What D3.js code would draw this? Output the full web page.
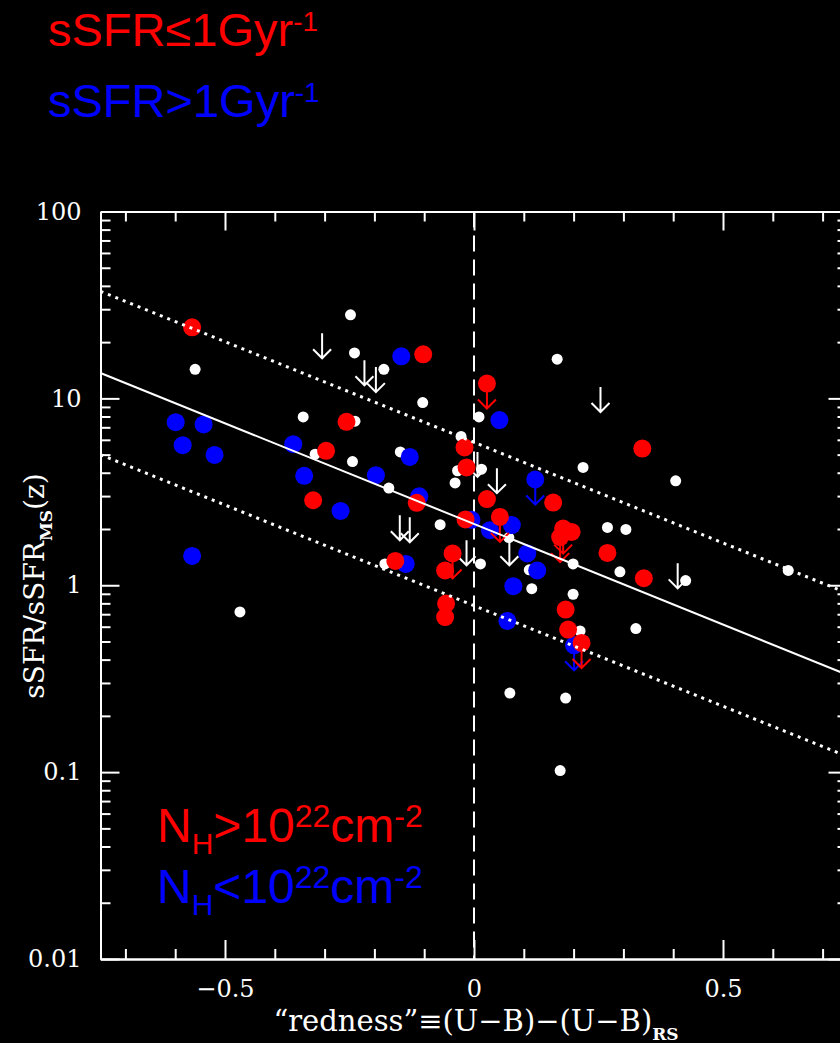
<!DOCTYPE html>
<html>
<head>
<meta charset="utf-8">
<script src="https://cdn.jsdelivr.net/npm/d3@7"></script>
<style>
  html, body { margin: 0; padding: 0; background: #000; overflow: hidden; }
</style>
</head>
<body>
<div id="chart"></div>
<script>
// sSFR / sSFR_MS vs redness

// small white dots: [redness, sSFR/sSFR_MS]
const whiteDots = [
  [-0.248, 28.0], [-0.240, 17.5], [-0.181, 14.3], [-0.560, 14.3], [-0.103, 9.5],
  [-0.343, 7.96], [-0.239, 7.55], [-0.026, 6.26], [-0.319, 5.03], [-0.148, 5.17],
  [-0.244, 4.59], [-0.033, 4.10], [0.015, 4.18], [0.010, 7.96], [-0.038, 3.53],
  [-0.171, 3.31], [-0.068, 2.11], [-0.179, 1.30], [0.013, 1.30], [0.167, 16.2],
  [0.219, 4.27], [0.405, 3.62], [0.268, 2.04], [0.305, 1.99], [0.070, 1.80],
  [0.111, 1.21], [0.199, 1.30], [0.293, 1.18], [0.425, 1.06], [0.631, 1.20],
  [0.116, 0.958], [0.199, 0.895], [0.213, 0.569], [0.325, 0.586], [0.072, 0.265],
  [0.184, 0.249], [0.173, 0.102], [-0.470, 0.72]
];

// white upper limits (arrow top)
const whiteLimits = [
  [-0.305, 22.3], [-0.220, 16.0], [-0.197, 14.7], [0.254, 11.5], [0.007, 5.17],
  [0.046, 4.23], [-0.149, 2.37], [-0.129, 2.31], [0.071, 1.74], [-0.015, 1.74],
  [0.409, 1.31]
];

// N_H > 1e22 : [redness, sSFR/sSFR_MS, upper limit?]
const redPoints = [
  [-0.566, 24.0, 0], [-0.102, 17.2, 0], [-0.256, 7.49, 0], [-0.019, 5.46, 0],
  [-0.297, 5.24, 0], [-0.015, 4.27, 0], [-0.323, 2.85, 0], [-0.115, 2.76, 0],
  [-0.017, 2.25, 0], [-0.043, 1.48, 1], [-0.158, 1.35, 0], [-0.058, 1.20, 0],
  [-0.056, 0.798, 0], [-0.058, 0.676, 0], [0.026, 12.0, 1], [0.338, 5.39, 0],
  [0.026, 2.89, 0], [0.159, 2.77, 0], [0.052, 2.32, 1], [0.179, 2.01, 1],
  [0.196, 1.93, 0], [0.173, 1.81, 1], [0.268, 1.49, 0], [0.341, 1.09, 0],
  [0.184, 0.741, 0], [0.189, 0.579, 0], [0.216, 0.491, 1]
];

// N_H < 1e22
const bluePoints = [
  [-0.146, 16.8, 0], [-0.599, 7.46, 0], [-0.543, 7.25, 0], [-0.585, 5.62, 0],
  [-0.521, 4.98, 0], [-0.363, 5.69, 0], [-0.129, 4.86, 0], [-0.341, 3.85, 0],
  [-0.197, 3.88, 0], [-0.110, 2.99, 0], [-0.268, 2.50, 0], [-0.005, 2.24, 0],
  [-0.137, 1.30, 0], [-0.566, 1.435, 0], [0.051, 7.65, 0], [0.123, 3.68, 1],
  [0.032, 1.97, 0], [0.076, 2.10, 0], [0.107, 1.48, 0], [0.127, 1.20, 0],
  [0.079, 0.988, 0], [0.067, 0.644, 0], [0.201, 0.477, 1]
];

// fit: log10(y) = intercept + slope * x, with +-scatter band
const fitLine = { intercept: 0.328, slope: -1.077 };
const bandOffsets = [-0.437, 0.437];

const xMajorTicks = [-0.5, 0, 0.5];
const xTickLabels = ['\u22120.5', '0', '0.5'];
const yMajorTicks = [0.01, 0.1, 1, 10, 100];
const yTickLabels = ['0.01', '0.1', '1', '10', '100'];

const width = 840, height = 1043;
const plot = { left: 100.5, right: 847.5, top: 211.5, bottom: 959 };

const svg = d3.select('#chart')
  .append('svg')
  .attr('width', width)
  .attr('height', height)
  .style('background', '#000');

const x = d3.scaleLinear().domain([-0.75, 0.75]).range([plot.left, plot.right]);
const y = d3.scaleLog().domain([0.01, 100]).range([plot.bottom, plot.top]);

const xMinor = d3.range(-7, 8).map((d) => d / 10).filter((d) => Math.abs(d * 2 - Math.round(d * 2)) > 1e-6);
const yMinor = [];
[0.01, 0.1, 1, 10].forEach((dec) => {
  for (let k = 2; k <= 9; k++) yMinor.push(dec * k);
});

const tickFont = '"DejaVu Serif", serif';

function styleAxis(g) {
  g.selectAll('path.domain').attr('stroke', '#fff').attr('stroke-width', 2);
  g.selectAll('.tick line').attr('stroke', '#fff').attr('stroke-width', 2);
  g.selectAll('.tick text')
    .attr('fill', '#fff')
    .style('font-family', tickFont)
    .style('font-size', '24px');
}

const axes = svg.append('g').attr('class', 'axes');

// bottom
axes.append('g').attr('transform', `translate(0,${plot.bottom})`)
  .call(d3.axisBottom(x).tickValues(xMinor).tickSize(-10).tickSizeOuter(0).tickFormat(''))
  .call(styleAxis);
axes.append('g').attr('transform', `translate(0,${plot.bottom})`)
  .call(d3.axisBottom(x).tickValues(xMajorTicks).tickSize(-19).tickSizeOuter(0)
    .tickPadding(21).tickFormat((d, i) => xTickLabels[i]))
  .call(styleAxis);

// top
axes.append('g').attr('transform', `translate(0,${plot.top})`)
  .call(d3.axisTop(x).tickValues(xMinor).tickSize(-10).tickSizeOuter(0).tickFormat(''))
  .call(styleAxis);
axes.append('g').attr('transform', `translate(0,${plot.top})`)
  .call(d3.axisTop(x).tickValues(xMajorTicks).tickSize(-19).tickSizeOuter(0).tickFormat(''))
  .call(styleAxis);

// left
axes.append('g').attr('transform', `translate(${plot.left},0)`)
  .call(d3.axisLeft(y).tickValues(yMinor).tickSize(-10).tickSizeOuter(0).tickFormat(''))
  .call(styleAxis);
axes.append('g').attr('transform', `translate(${plot.left},0)`)
  .call(d3.axisLeft(y).tickValues(yMajorTicks).tickSize(-19).tickSizeOuter(0)
    .tickPadding(19).tickFormat((d, i) => yTickLabels[i]))
  .call(styleAxis);

// right
axes.append('g').attr('transform', `translate(${plot.right},0)`)
  .call(d3.axisRight(y).tickValues(yMinor).tickSize(-10).tickSizeOuter(0).tickFormat(''))
  .call(styleAxis);
axes.append('g').attr('transform', `translate(${plot.right},0)`)
  .call(d3.axisRight(y).tickValues(yMajorTicks).tickSize(-19).tickSizeOuter(0).tickFormat(''))
  .call(styleAxis);

// zero line
svg.append('line')
  .attr('x1', x(0)).attr('x2', x(0))
  .attr('y1', plot.top).attr('y2', plot.bottom)
  .attr('stroke', '#fff').attr('stroke-width', 2)
  .attr('stroke-dasharray', '16,8');

// points
const pts = svg.append('g').attr('class', 'points');

pts.selectAll('.white-dot')
  .data(whiteDots)
  .enter()
  .append('circle')
  .attr('class', 'white-dot')
  .attr('cx', (d) => x(d[0]))
  .attr('cy', (d) => y(d[1]))
  .attr('r', 5.5)
  .attr('fill', '#fff');

function arrowPath(d) {
  const px = x(d[0]), py = y(d[1]);
  const tip = py + 25;
  return `M${px},${py}V${tip}M${px - 9},${tip - 9}L${px},${tip}L${px + 9},${tip - 9}`;
}

pts.selectAll('.white-limit')
  .data(whiteLimits)
  .enter()
  .append('path')
  .attr('class', 'white-limit')
  .attr('d', arrowPath)
  .attr('fill', 'none')
  .attr('stroke', '#fff')
  .attr('stroke-width', 2);

function drawSeries(data, colour, cls) {
  const g = pts.selectAll('.' + cls)
    .data(data)
    .enter()
    .append('g')
    .attr('class', cls);

  g.filter((d) => d[2])
    .append('path')
    .attr('d', arrowPath)
    .attr('fill', 'none')
    .attr('stroke', colour)
    .attr('stroke-width', 2);

  g.append('circle')
    .attr('cx', (d) => x(d[0]))
    .attr('cy', (d) => y(d[1]))
    .attr('r', 9)
    .attr('fill', colour);
}

drawSeries(bluePoints, '#0000ff', 'blue-pt');
drawSeries(redPoints, '#ff0000', 'red-pt');

// fit line and band
const xEnds = x.domain();
function fitAt(xv, off) {
  return Math.pow(10, fitLine.intercept + fitLine.slope * xv + off);
}
const lineGen = d3.line().x((d) => x(d[0])).y((d) => y(d[1]));

svg.append('path')
  .attr('d', lineGen(xEnds.map((v) => [v, fitAt(v, 0)])))
  .attr('stroke', '#fff').attr('stroke-width', 2).attr('fill', 'none');

bandOffsets.forEach((off) => {
  svg.append('path')
    .attr('d', lineGen(xEnds.map((v) => [v, fitAt(v, off)])))
    .attr('stroke', '#fff').attr('stroke-width', 3).attr('fill', 'none')
    .attr('stroke-dasharray', '3,5');
});

// axis titles
const serif = '"DejaVu Serif", serif';
const xTitle = svg.append('text')
  .attr('x', 476).attr('y', 1031)
  .attr('text-anchor', 'middle')
  .attr('fill', '#fff')
  .style('font-family', serif)
  .style('font-size', '29px');
xTitle.append('tspan').text('\u201credness\u201d\u2261(U\u2212B)\u2212(U\u2212B)');
xTitle.append('tspan').attr('dy', 9).style('font-size', '17px').style('font-weight', 'bold').text('RS');

const yTitle = svg.append('text')
  .attr('transform', 'translate(44,586) rotate(-90)')
  .attr('text-anchor', 'middle')
  .attr('fill', '#fff')
  .style('font-family', serif)
  .style('font-size', '28px');
yTitle.append('tspan').text('sSFR/sSFR');
yTitle.append('tspan').attr('dy', 8).style('font-size', '17px').style('font-weight', 'bold').text('MS');
yTitle.append('tspan').attr('dy', -8).text('(z)');

// legends
const sans = '"Liberation Sans", Arial, sans-serif';
function legendLine(xp, yp, colour, parts) {
  const t = svg.append('text')
    .attr('x', xp).attr('y', yp)
    .attr('fill', colour)
    .style('font-family', sans);
  parts.forEach((p) => {
    t.append('tspan')
      .attr('dy', p.dy || 0)
      .style('font-size', p.size + 'px')
      .text(p.text);
  });
}

legendLine(48, 46, '#ff0000', [
  { text: 'sSFR\u22641Gyr', size: 47 },
  { text: '-1', size: 28, dy: -15 }
]);
legendLine(48, 117, '#0000ff', [
  { text: 'sSFR>1Gyr', size: 47 },
  { text: '-1', size: 28, dy: -15 }
]);
legendLine(157, 842, '#ff0000', [
  { text: 'N', size: 48 },
  { text: 'H', size: 30, dy: 12 },
  { text: '>10', size: 48, dy: -12 },
  { text: '22', size: 32, dy: -15 },
  { text: 'cm', size: 48, dy: 15 },
  { text: '-2', size: 32, dy: -15 }
]);
legendLine(157, 903, '#0000ff', [
  { text: 'N', size: 48 },
  { text: 'H', size: 30, dy: 12 },
  { text: '<10', size: 48, dy: -12 },
  { text: '22', size: 32, dy: -15 },
  { text: 'cm', size: 48, dy: 15 },
  { text: '-2', size: 32, dy: -15 }
]);
</script>
</body>
</html>
